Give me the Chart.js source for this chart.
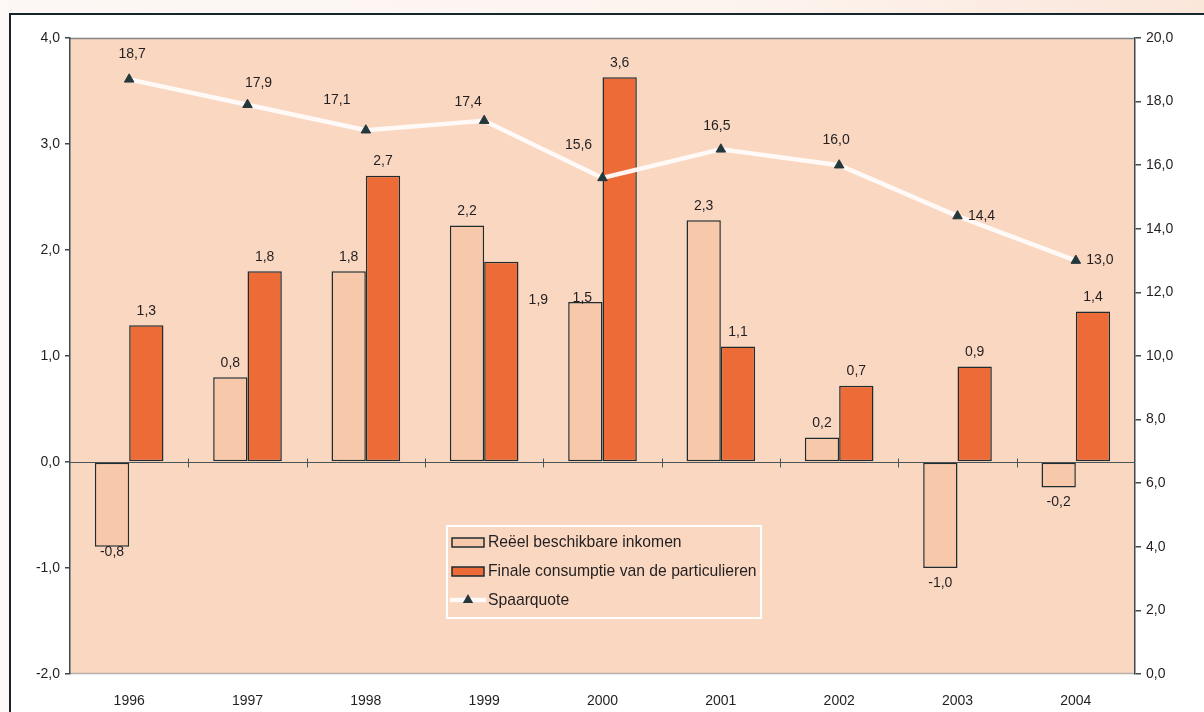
<!DOCTYPE html>
<html>
<head>
<meta charset="utf-8">
<script src="https://cdn.jsdelivr.net/npm/chart.js@4.4.0/dist/chart.umd.min.js"></script>
<style>
  html, body { margin: 0; padding: 0; width: 1204px; height: 712px; overflow: hidden; }
  body { background: linear-gradient(to right, #fdf8f5 0%, #fdf4ef 60%, #fbe6da 100%); position: relative; }
  #panel { position: absolute; left: 9px; top: 13px; width: 1300px; height: 800px; background: #ffffff; border: 2px solid #17252c; box-sizing: border-box; }
  #wrap { position: absolute; left: 0; top: 0; width: 1204px; height: 712px; }
</style>
</head>
<body>
<div id="panel"></div>
<div id="wrap"><canvas id="c" width="1204" height="712"></canvas></div>
<script>
// ---- data ----
const years = ['1996','1997','1998','1999','2000','2001','2002','2003','2004'];
const inkomen = [-0.8, 0.8, 1.8, 2.23, 1.51, 2.28, 0.23, -1.0, -0.24];
const inkomenLabels = ['-0,8','0,8','1,8','2,2','1,5','2,3','0,2','-1,0','-0,2'];
const consumptie = [1.29, 1.80, 2.70, 1.89, 3.63, 1.09, 0.72, 0.90, 1.42];
const consumptieLabels = ['1,3','1,8','2,7','1,9','3,6','1,1','0,7','0,9','1,4'];
const spaarquote = [18.7, 17.9, 17.1, 17.4, 15.6, 16.5, 16.0, 14.4, 13.0];
const seriesNames = ['Reëel beschikbare inkomen', 'Finale consumptie van de particulieren', 'Spaarquote'];
const leftTicks = { min: -2, max: 4, step: 1 };
const rightTicks = { min: 0, max: 20, step: 2 };

// ---- styles ----
const FONT = "'Liberation Sans', Arial, sans-serif";
const TXT = '#231f20';
const PLOT_BG = '#fad7c1';
const LIGHT = '#f8c8aa';
const DARK = '#ec6b37';
const EDGE = '#1f2d31';
const AXIS = '#3c4a50';
const MARK = '#24373b';
const LINE = 'rgba(255,251,249,0.96)';

// label placement tweaks (pixel offsets, presentation only)
const lineLabelOffsets = [[3,-25],[11,-22],[-29,-30],[-16,-19],[-24,-33],[-4,-23],[-3,-25],[24,0],[24,0]];
const barLabelOverrides = {
  '1-0': [0, 5, 'bottom'],
  '1-4': [-3, -4, 'top'],
  '2-3': [37, 38, 'top']
};

const fmt = v => v.toFixed(1).replace('.', ',');

const bgPlugin = {
  id: 'bg',
  beforeDraw(chart) {
    const { ctx, chartArea: a } = chart;
    ctx.save();
    ctx.fillStyle = PLOT_BG;
    ctx.fillRect(a.left, a.top, a.right - a.left, a.bottom - a.top);
    ctx.strokeStyle = '#858585';
    ctx.lineWidth = 1.5;
    ctx.beginPath();
    ctx.moveTo(a.left, a.top + 0.5); ctx.lineTo(a.right, a.top + 0.5);
    ctx.stroke();
    ctx.strokeStyle = '#b8b0aa';
    ctx.beginPath();
    ctx.moveTo(a.left, a.bottom - 0.5); ctx.lineTo(a.right, a.bottom - 0.5);
    ctx.stroke();
    ctx.restore();
  },
  beforeDatasetsDraw(chart) {
    const { ctx, chartArea: a, scales } = chart;
    const y0 = Math.round(scales.y.getPixelForValue(0)) + 0.5;
    ctx.save();
    ctx.strokeStyle = '#4a5559';
    ctx.lineWidth = 1;
    ctx.beginPath();
    ctx.moveTo(a.left, y0); ctx.lineTo(a.right, y0);
    ctx.stroke();
    const xs = scales.x;
    for (let i = 0; i < years.length - 1; i++) {
      const bx = Math.round((xs.getPixelForValue(i) + xs.getPixelForValue(i + 1)) / 2) + 0.5;
      ctx.beginPath();
      ctx.moveTo(bx, y0 - 4); ctx.lineTo(bx, y0 + 5);
      ctx.stroke();
    }
    ctx.restore();
  }
};

const labelPlugin = {
  id: 'labels',
  afterDatasetsDraw(chart) {
    const { ctx } = chart;
    ctx.save();
    ctx.font = '14px ' + FONT;
    ctx.fillStyle = TXT;
    ctx.textAlign = 'center';
    ctx.textBaseline = 'middle';
    [[1, inkomen, inkomenLabels], [2, consumptie, consumptieLabels]].forEach(([di, vals, labs]) => {
      const meta = chart.getDatasetMeta(di);
      meta.data.forEach((el, i) => {
        const v = vals[i];
        const top = Math.min(el.y, el.base), bottom = Math.max(el.y, el.base);
        let x = el.x, y;
        const ov = barLabelOverrides[di + '-' + i];
        if (ov) {
          x += ov[0];
          y = (ov[2] === 'top' ? top : bottom) + ov[1];
        } else if (v >= 0) {
          y = top - 14.5;
        } else {
          y = bottom + 15;
        }
        ctx.fillText(labs[i], x, y);
      });
    });
    const lm = chart.getDatasetMeta(0);
    lm.data.forEach((el, i) => {
      const o = lineLabelOffsets[i];
      ctx.fillText(fmt(spaarquote[i]), el.x + o[0], el.y + o[1]);
    });
    ctx.restore();
  }
};

const legendPlugin = {
  id: 'customLegend',
  afterDraw(chart) {
    const { ctx } = chart;
    ctx.save();
    const bx = 447, by = 526, bw = 314, bh = 92;
    ctx.strokeStyle = '#ffffff';
    ctx.lineWidth = 2;
    ctx.strokeRect(bx, by, bw, bh);
    ctx.font = '15.7px ' + FONT;
    ctx.fillStyle = TXT;
    ctx.textBaseline = 'middle';
    ctx.textAlign = 'left';
    const sx = 452, sw = 32, tx = 488;
    const rows = [542.5, 571.5, 600];
    ctx.lineWidth = 1.5;
    ctx.strokeStyle = EDGE;
    ctx.fillStyle = LIGHT;
    ctx.fillRect(sx, rows[0] - 4.5, sw, 9);
    ctx.strokeRect(sx, rows[0] - 4.5, sw, 9);
    ctx.fillStyle = DARK;
    ctx.fillRect(sx, rows[1] - 4.5, sw, 9);
    ctx.strokeRect(sx, rows[1] - 4.5, sw, 9);
    ctx.strokeStyle = LINE;
    ctx.lineWidth = 4.5;
    ctx.beginPath();
    ctx.moveTo(sx - 2, rows[2]); ctx.lineTo(sx + sw + 2, rows[2]);
    ctx.stroke();
    ctx.fillStyle = MARK;
    const r = 6, cx = sx + sw / 2, cy = rows[2];
    ctx.beginPath();
    ctx.moveTo(cx, cy - r);
    ctx.lineTo(cx + r * 0.866, cy + r * 0.5);
    ctx.lineTo(cx - r * 0.866, cy + r * 0.5);
    ctx.closePath();
    ctx.fill();
    ctx.fillStyle = TXT;
    seriesNames.forEach((n, i) => ctx.fillText(n, tx, rows[i] + 0.5));
    ctx.restore();
  }
};

new Chart(document.getElementById('c'), {
  data: {
    labels: years,
    datasets: [
      {
        type: 'line', label: seriesNames[2], data: spaarquote, yAxisID: 'y1', order: 0,
        borderColor: LINE, borderWidth: 4.5, tension: 0,
        pointStyle: 'triangle', pointRadius: 5.5, pointBorderWidth: 1,
        pointBackgroundColor: MARK, pointBorderColor: MARK
      },
      {
        type: 'bar', label: seriesNames[0], data: inkomen, yAxisID: 'y', order: 1,
        backgroundColor: LIGHT, borderColor: EDGE, borderWidth: 1.5, borderSkipped: false,
        categoryPercentage: 0.58, barPercentage: 1
      },
      {
        type: 'bar', label: seriesNames[1], data: consumptie, yAxisID: 'y', order: 1,
        backgroundColor: DARK, borderColor: EDGE, borderWidth: 1.5, borderSkipped: false,
        categoryPercentage: 0.58, barPercentage: 1
      }
    ]
  },
  options: {
    responsive: false,
    animation: false,
    devicePixelRatio: 1,
    layout: { padding: { top: 38, left: 0, right: 0, bottom: 0 } },
    plugins: { legend: { display: false }, tooltip: { enabled: false } },
    scales: {
      x: {
        type: 'category', offset: true, position: 'bottom',
        grid: { display: false }, border: { display: false },
        ticks: { font: { family: FONT, size: 14 }, color: TXT, padding: 11, maxRotation: 0 },
        afterFit(s) { s.height = 38; }
      },
      y: {
        position: 'left', min: leftTicks.min, max: leftTicks.max,
        ticks: { stepSize: leftTicks.step, callback: v => fmt(v), font: { family: FONT, size: 14 }, color: TXT, padding: 5 },
        grid: { drawOnChartArea: false, drawTicks: true, tickLength: 5, color: AXIS, lineWidth: 1.5 },
        border: { display: true, color: AXIS, width: 1.5 },
        afterFit(s) { s.width = 70; }
      },
      y1: {
        position: 'right', min: rightTicks.min, max: rightTicks.max,
        ticks: { stepSize: rightTicks.step, callback: v => fmt(v), font: { family: FONT, size: 14 }, color: TXT, padding: 5 },
        grid: { drawOnChartArea: false, drawTicks: true, tickLength: 6, color: AXIS, lineWidth: 1.5 },
        border: { display: true, color: AXIS, width: 1.5 },
        afterFit(s) { s.width = 69; }
      }
    }
  },
  plugins: [bgPlugin, labelPlugin, legendPlugin]
});
</script>
</body>
</html>
